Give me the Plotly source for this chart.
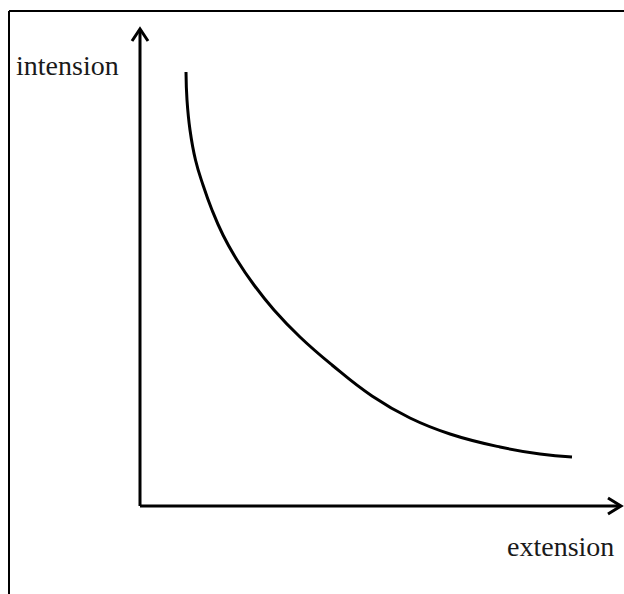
import plotly.graph_objects as go

# Curve (extension vs intension)
curve_x = [46, 47, 50, 55.5, 63, 72, 83, 97, 114, 134, 160, 192, 232, 270, 310, 360, 400, 432]
curve_y = [434, 406, 376, 346, 321, 296, 271, 246, 221, 196, 169, 141, 110, 88, 72, 59, 52, 49]

x_label = "extension"
y_label = "intension"

fig = go.Figure()
fig.add_trace(go.Scatter(x=curve_x, y=curve_y, mode="lines",
                         line=dict(color="black", width=3, shape="spline", smoothing=1.3),
                         hoverinfo="skip", showlegend=False))

# axes
ax_line = dict(color="black", width=3)
fig.add_shape(type="line", xref="x", yref="y", x0=0, y0=0, x1=0, y1=475, line=ax_line)
fig.add_shape(type="line", xref="x", yref="y", x0=0, y0=0, x1=479, y1=0, line=ax_line)
# open chevron arrowheads
fig.add_shape(type="path", xref="x", yref="y", path="M -8,465 L 0,477 L 8,465", line=ax_line)
fig.add_shape(type="path", xref="x", yref="y", path="M 468,8 L 481,0 L 468,-8", line=ax_line)

fig.add_annotation(x=-126, y=441, xref="x", yref="y", text=y_label, showarrow=False,
                   xanchor="left", yanchor="middle",
                   font=dict(family="Liberation Serif", size=28, color="#1a1a1a"))
fig.add_annotation(x=476, y=-40, xref="x", yref="y", text=x_label, showarrow=False,
                   xanchor="right", yanchor="middle",
                   font=dict(family="Liberation Serif", size=28, color="#1a1a1a"))

# frame
W, H = 624, 594
fig.add_shape(type="line", xref="paper", yref="paper", x0=9/W, x1=1, y0=1-11/H, y1=1-11/H,
              line=dict(color="black", width=2))
fig.add_shape(type="line", xref="paper", yref="paper", x0=9/W, x1=9/W, y0=0, y1=1-11/H,
              line=dict(color="black", width=2))

fig.update_layout(width=W, height=H, margin=dict(l=0, r=0, t=0, b=0),
                  paper_bgcolor="white", plot_bgcolor="white",
                  xaxis=dict(range=[-140, 484], visible=False, fixedrange=True),
                  yaxis=dict(range=[-88, 506], visible=False, fixedrange=True))
fig.write_html("out.html", config={"displayModeBar": False},
               post_script="document.body.style.margin='0';document.body.style.overflow='hidden';")
